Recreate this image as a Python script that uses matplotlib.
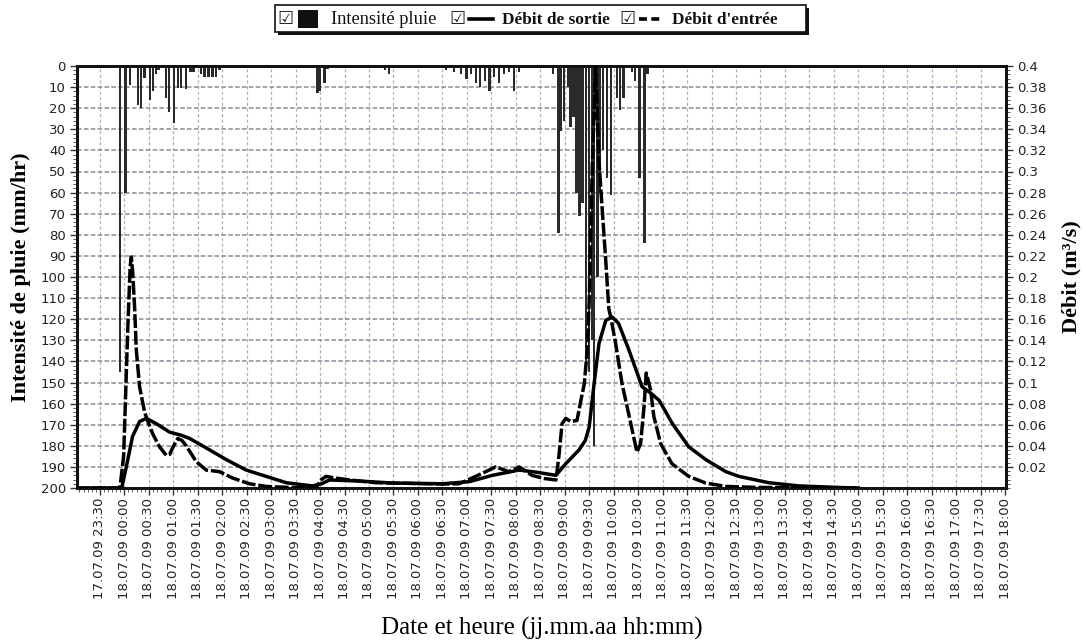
import matplotlib
matplotlib.use('Agg')
import matplotlib.pyplot as plt
import matplotlib.dates as mdates
from matplotlib.ticker import FixedLocator, MultipleLocator, FuncFormatter
from matplotlib.lines import Line2D
from matplotlib.patches import Rectangle
import numpy as np
import pandas as pd

# ---------------- data (hours relative to 18.07.09 00:00) ----------------
rain_hours = [-0.086, 0.027, 0.118, 0.28, 0.343, 0.414, 0.527, 0.588, 0.649, 0.70,
              0.853, 0.914, 1.016, 1.098, 1.159, 1.261, 1.353, 1.414, 1.567, 1.639,
              1.72, 1.80, 1.88, 1.945,
              3.945, 4.006, 4.088, 4.15,
              5.33, 5.41,
              6.58, 6.74, 6.88, 6.99, 7.09, 7.19, 7.27, 7.37, 7.46, 7.56, 7.66, 7.76,
              7.86, 7.96, 8.07,
              8.76, 8.87, 8.925, 8.99, 9.06, 9.12, 9.18, 9.24, 9.30, 9.36, 9.43, 9.50,
              9.56, 9.60, 9.67, 9.72, 9.78, 9.87, 9.94, 10.07, 10.13, 10.20, 10.31,
              10.38, 10.43, 10.53, 10.63, 10.69]
rain_mmhr = [145, 60, 9, 18.5, 20, 5.5, 16, 12, 4, 2,
             15, 22, 27, 10.5, 10.5, 11, 3, 3, 4, 5,
             5, 5, 5, 2,
             13, 12, 8, 1.5,
             2, 4,
             2, 3, 4, 6, 4, 8, 10, 7, 12, 5, 8, 4,
             3, 12, 3,
             4, 79, 31, 26, 10, 29, 24, 60, 71, 65, 145, 145,
             130, 180, 100, 60, 40, 53, 61, 15, 21, 15, 1,
             3, 7, 53, 84, 4]

inflow_hours = [-1.0, -0.09, -0.014, 0.07, 0.12, 0.143, 0.17, 0.21, 0.245, 0.312, 0.414, 0.482,
                0.584, 0.72, 0.857, 0.93, 0.986, 1.094, 1.18, 1.265, 1.469, 1.673, 1.945, 2.21,
                2.557, 2.898, 3.37, 3.918, 4.027, 4.122, 4.327, 4.80, 5.14, 5.82,
                6.50, 6.84, 7.18, 7.59, 7.86, 8.07, 8.33, 8.58, 8.82, 8.88, 8.945,
                9.02, 9.12, 9.25, 9.33, 9.40, 9.46, 9.50, 9.56, 9.63, 9.70, 9.76,
                9.84, 9.90, 9.94, 10.04, 10.17, 10.35, 10.475, 10.55, 10.62, 10.665,
                10.755, 10.82, 10.96, 11.19, 11.535, 11.88, 12.29, 12.97, 15.0]
inflow_m3s = [0.0, 0.0, 0.03, 0.15, 0.21, 0.219, 0.205, 0.172, 0.131, 0.096, 0.072, 0.063,
              0.051, 0.039, 0.031, 0.032, 0.038, 0.047, 0.045, 0.040, 0.025, 0.017, 0.0155, 0.0095,
              0.004, 0.0015, 0.0005, 0.0003, 0.008, 0.011, 0.0093, 0.0066, 0.005, 0.0044,
              0.0038, 0.004, 0.011, 0.020, 0.0155, 0.020, 0.012, 0.009, 0.0076, 0.030, 0.061,
              0.066, 0.063, 0.064, 0.083, 0.099, 0.131, 0.178, 0.30, 0.40, 0.309, 0.268,
              0.214, 0.170, 0.162, 0.137, 0.099, 0.061, 0.034, 0.042, 0.077, 0.109,
              0.093, 0.068, 0.042, 0.023, 0.011, 0.0047, 0.0015, 0.0005, 0.0]

outflow_hours = [-1.0, -0.053, 0.041, 0.169, 0.312, 0.449, 0.653, 0.924, 1.163, 1.333,
                 1.673, 2.08, 2.49, 2.90, 3.31, 3.84, 4.03, 4.19, 4.80, 5.48, 6.50,
                 7.05, 7.52, 8.07, 8.42, 8.82, 9.02, 9.29, 9.42, 9.50, 9.60, 9.70, 9.84,
                 9.97, 10.10, 10.31, 10.58, 10.755, 10.93, 11.20, 11.535, 11.88, 12.29,
                 12.56, 13.17, 13.78, 14.6, 15.0]
outflow_m3s = [0.0, 0.0, 0.020, 0.049, 0.063, 0.066, 0.061, 0.053, 0.050, 0.047,
               0.038, 0.027, 0.017, 0.011, 0.005, 0.002, 0.004, 0.0076, 0.0066, 0.0047, 0.004,
               0.006, 0.012, 0.017, 0.015, 0.012, 0.023, 0.036, 0.045, 0.058, 0.099, 0.137, 0.159,
               0.162, 0.156, 0.131, 0.096, 0.090, 0.083, 0.061, 0.039, 0.027, 0.0155,
               0.011, 0.005, 0.002, 0.0005, 0.0]

x_start = '2009-07-17 23:02'
x_end = '2009-07-18 18:01'
rain_ticks = list(range(0, 201, 10))
flow_ticks = [0.02, 0.04, 0.06, 0.08, 0.1, 0.12, 0.14, 0.16, 0.18, 0.2,
              0.22, 0.24, 0.26, 0.28, 0.3, 0.32, 0.34, 0.36, 0.38, 0.4]

BASE = pd.Timestamp('2009-07-18 00:00')


def to_dt(h):
    return BASE + pd.to_timedelta(np.asarray(h, dtype=float), unit='h')


# ---------------- figure ----------------
W, H = 1086, 642
fig = plt.figure(figsize=(W / 100, H / 100), dpi=100)
fig.patch.set_facecolor('white')
ax = fig.add_axes([77 / W, 1 - 488 / H, (1006 - 77) / W, (488 - 66) / H])
ax2 = ax.twinx()

tick_font = dict(family='DejaVu Sans', size=9.5, color='#222222')

# rain bars (hanging from the top)
ax.bar(to_dt(rain_hours), rain_mmhr, width=2.8 / 1440, bottom=0,
       color='#2a2a2a', edgecolor='none', zorder=3, align='center')
ax.set_ylim(200, 0)
ax.set_xlim(pd.Timestamp(x_start), pd.Timestamp(x_end))
ax.yaxis.set_major_locator(FixedLocator(rain_ticks))
ax.yaxis.set_minor_locator(MultipleLocator(2))

ax.xaxis.set_major_locator(mdates.MinuteLocator(byminute=[0, 30]))
ax.xaxis.set_minor_locator(mdates.MinuteLocator(byminute=range(0, 60, 5)))
ax.xaxis.set_major_formatter(mdates.DateFormatter('%d.%m.%y %H:%M'))

ax.grid(True, which='major', axis='y', color='#8a8a9a', linestyle=(0, (3, 1.5)), linewidth=1.1, zorder=0)
ax.grid(True, which='major', axis='x', color='#b0b0b8', linestyle=(0, (2.5, 2)), linewidth=0.9, zorder=0)
ax.set_axisbelow(True)

for lab in ax.get_xticklabels():
    lab.set_rotation(90)
for lab in ax.get_xticklabels() + ax.get_yticklabels():
    lab.set_fontfamily(tick_font['family'])
    lab.set_fontsize(tick_font['size'])
    lab.set_color(tick_font['color'])

ax.tick_params(axis='x', which='major', length=5, width=1, pad=2, colors='#333333', labelcolor='#222222')
ax.tick_params(axis='x', which='minor', length=3, width=0.7, colors='#555555')
ax.tick_params(axis='y', which='major', length=5, width=1, pad=3, colors='#333333', labelcolor='#222222')
ax.tick_params(axis='y', which='minor', length=3, width=0.7, colors='#555555')

# flows
ax2.plot(to_dt(outflow_hours), outflow_m3s, color='black', linewidth=2.5,
         solid_joinstyle='round', zorder=4, label='Débit de sortie')
ax2.plot(to_dt(inflow_hours), inflow_m3s, color='black', linewidth=2.5,
         linestyle=(0, (4, 0.8)), dash_joinstyle='round', zorder=5, label="Débit d'entrée")
ax2.set_ylim(0, 0.4)
ax2.yaxis.set_major_locator(FixedLocator(flow_ticks))
ax2.yaxis.set_minor_locator(MultipleLocator(0.004))
ax2.yaxis.set_major_formatter(FuncFormatter(lambda v, p: f'{v:g}'))
ax2.tick_params(axis='y', which='major', length=5, width=1, pad=3, colors='#333333', labelcolor='#222222')
ax2.tick_params(axis='y', which='minor', length=3, width=0.7, colors='#555555')
for lab in ax2.get_yticklabels():
    lab.set_fontfamily(tick_font['family'])
    lab.set_fontsize(tick_font['size'])
    lab.set_color(tick_font['color'])

for a in (ax, ax2):
    for s in a.spines.values():
        s.set_linewidth(2.0)
        s.set_color('#111111')

# axis labels
label_font = dict(family='Liberation Serif', size=16, weight='bold')
ax.set_ylabel('Intensité de pluie (mm/hr)', **label_font)
ax.yaxis.set_label_coords((31 - 77) / 931, 0.5)
ax2.set_ylabel('Débit (m³/s)', rotation=90, **label_font)
ax2.yaxis.set_label_coords((1064 - 77) / 931, 0.5)
ax.set_xlabel('Date et heure (jj.mm.aa hh:mm)', family='Liberation Serif', size=18)
ax.xaxis.set_label_coords(0.5, (488 - 617) / 422)


# ---------------- custom legend (top) ----------------
def fx(x):
    return x / W


def fy(y):
    return 1 - y / H


tf = fig.transFigure
fig.patches.append(Rectangle((fx(278), fy(35)), fx(809) - fx(278), fy(8) - fy(35),
                             transform=tf, facecolor='#111111', edgecolor='none', zorder=1))
fig.patches.append(Rectangle((fx(275), fy(32)), fx(806) - fx(275), fy(5) - fy(32),
                             transform=tf, facecolor='white', edgecolor='#111111', linewidth=1.2, zorder=2))

items = [
    (285, 'patch', 'Intensité pluie', 'normal', 13.2),
    (457, 'solid', 'Débit de sortie', 'bold', 12.4),
    (627, 'dashed', "Débit d'entrée", 'bold', 12.4),
]
for x0, kind, text, weight, fsize in items:
    fig.text(fx(x0), fy(19), '☑', transform=tf, family='DejaVu Sans', size=13,
             ha='center', va='center', color='#222222', zorder=3)
    if kind == 'patch':
        fig.patches.append(Rectangle((fx(298), fy(28)), fx(318) - fx(298), fy(10) - fy(28),
                                     transform=tf, facecolor='#111111', edgecolor='none', zorder=3))
        tx = 331
    else:
        ls = '-' if kind == 'solid' else (0, (2.2, 1.2))
        fig.lines.append(Line2D([fx(x0 + 12), fx(x0 + 36)], [fy(19), fy(19)], transform=tf,
                                color='black', linewidth=2.6, linestyle=ls, zorder=3))
        tx = x0 + 45
    fig.text(fx(tx), fy(19.5), text, transform=tf, family='Liberation Serif', size=fsize,
             weight=weight, ha='left', va='center', color='#111111', zorder=3)

fig.savefig('out.png', dpi=100)
